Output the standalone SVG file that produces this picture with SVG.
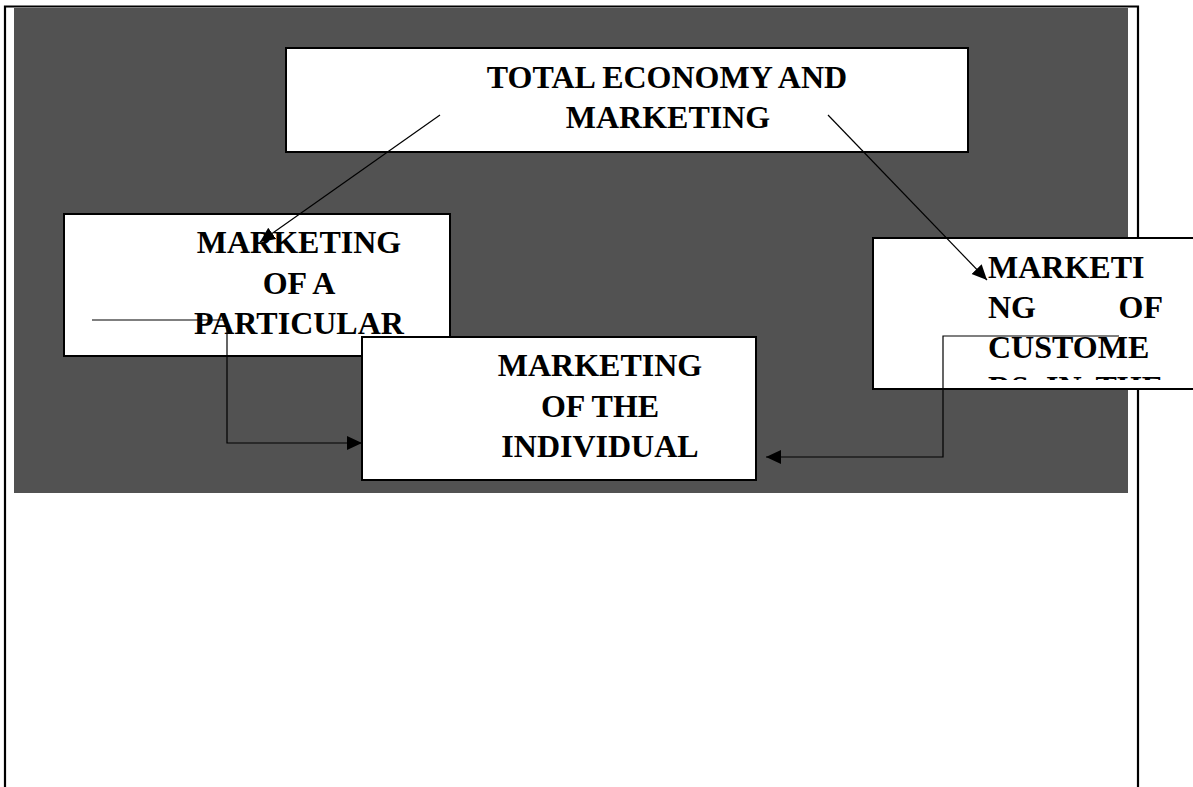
<svg xmlns="http://www.w3.org/2000/svg" width="1193" height="787" viewBox="0 0 1193 787">
<style>
.box{fill:#ffffff;stroke:#000000;stroke-width:2}
.t{font-family:"Liberation Serif","Times New Roman",serif;font-weight:bold;font-size:32px;fill:#000000}
.c{text-anchor:middle}
.con{fill:none;stroke:#000000;stroke-width:1.2}
.frame{stroke:#000000;stroke-width:2.2;fill:none}
</style>
<defs>
<marker id="arr" markerUnits="userSpaceOnUse" markerWidth="16" markerHeight="16" viewBox="0 0 16 16" refX="15" refY="8" orient="auto">
<path d="M0,1 L15,8 L0,15 Z" fill="#000000"/>
</marker>
<clipPath id="rclip"><rect x="873" y="238" width="320" height="142"/></clipPath>
</defs>
<rect x="0" y="0" width="1193" height="787" fill="#ffffff"/>
<g id="frame">
<path class="frame" d="M5,787 L5,6.5 L1138,6.5 L1138,787"/>
</g>
<rect id="background" x="14" y="8" width="1114" height="485" fill="#525252"/>
<g id="node-total">
<rect class="box" x="286" y="48" width="682" height="104"/>
<text class="t c" x="667" y="88">TOTAL ECONOMY AND</text>
<text class="t c" x="668" y="128">MARKETING</text>
</g>
<g id="node-particular">
<rect class="box" x="64" y="214" width="386" height="142"/>
<text class="t c" x="299" y="253">MARKETING</text>
<text class="t c" x="299" y="294">OF A</text>
<text class="t c" x="299" y="334">PARTICULAR</text>
</g>
<g id="node-customers">
<rect class="box" x="873" y="238" width="330" height="151"/>
<g clip-path="url(#rclip)">
<text class="t" x="988" y="278">MARKETI</text>
<text class="t" x="988" y="318">NG</text>
<text class="t" x="1163" y="318" text-anchor="end">OF</text>
<text class="t" x="988" y="358">CUSTOME</text>
<text class="t" x="988" y="398">RS</text>
<text class="t" x="1046" y="398">IN</text>
<text class="t" x="1163" y="398" text-anchor="end">THE</text>
</g>
</g>
<g id="node-individual">
<rect class="box" x="362" y="337" width="394" height="143"/>
<text class="t c" x="600" y="376">MARKETING</text>
<text class="t c" x="600" y="417">OF THE</text>
<text class="t c" x="600" y="457">INDIVIDUAL</text>
</g>
<g id="connectors">
<line class="con" x1="440" y1="115" x2="260" y2="242" marker-end="url(#arr)"/>
<line class="con" x1="828" y1="115" x2="987" y2="280" marker-end="url(#arr)"/>
<polyline class="con" points="92,320 227,320 227,443 362,443" marker-end="url(#arr)"/>
<polyline class="con" points="1119,336 943,336 943,457 766,457" marker-end="url(#arr)"/>
</g>
</svg>
